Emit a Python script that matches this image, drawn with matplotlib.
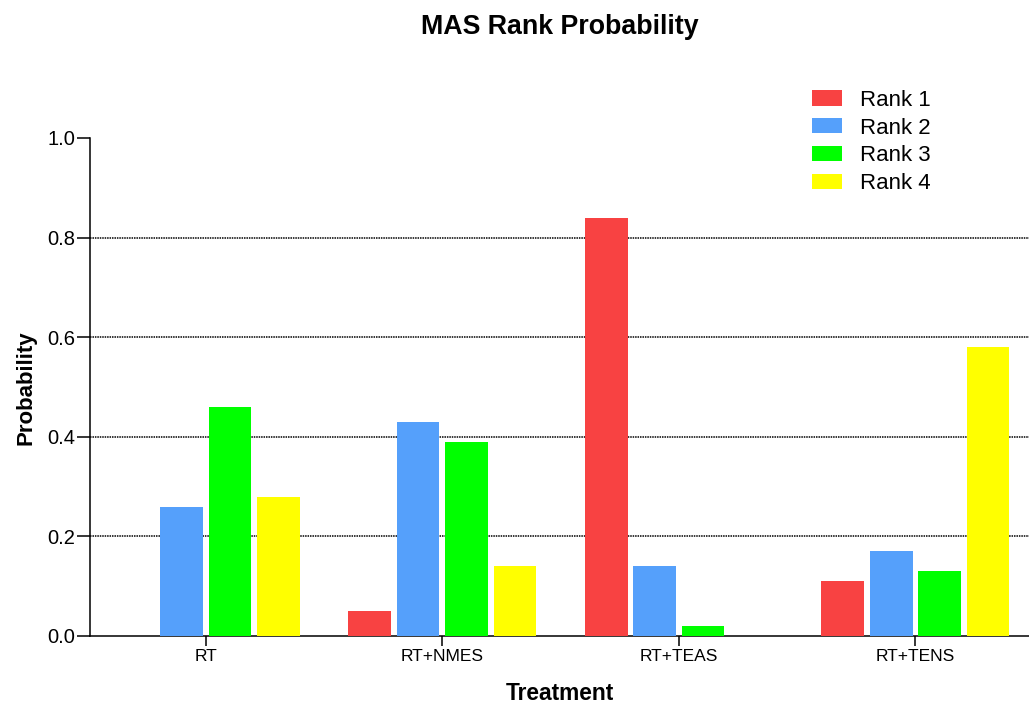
import numpy as np
import matplotlib.pyplot as plt

plt.rcParams['font.family'] = ['Liberation Sans', 'DejaVu Sans']

# Données
treatments = ["RT", "RT+NMES", "RT+TEAS", "RT+TENS"]
ranks = ["Rank 1", "Rank 2", "Rank 3", "Rank 4"]
rank1 = [0.0, 0.05, 0.84, 0.11]
rank2 = [0.26, 0.43, 0.14, 0.17]
rank3 = [0.46, 0.39, 0.02, 0.13]
rank4 = [0.28, 0.14, 0.0, 0.58]
colors = ["#F84242", "#55A0FB", "#00FF00", "#FFFF00"]

fig = plt.figure(figsize=(10.29, 7.04), dpi=100)
ax = fig.add_axes([0.0875, 0.0966, 0.9125, 0.7074])

x = np.arange(len(treatments))
pas = 0.205
largeur = 0.18
series = [rank1, rank2, rank3, rank4]
for i, (vals, nom, c) in enumerate(zip(series, ranks, colors)):
    ax.bar(x + (i - 1.5) * pas, vals, width=largeur, color=c, label=nom, zorder=3)

# lignes de grille pointillées
for yv in [0.2, 0.4, 0.6, 0.8]:
    ax.axhline(yv, color="black", linestyle=(0, (1, 0.6)), linewidth=1.1, zorder=1)

ax.set_xlim(-0.49, 3.48)
ax.set_ylim(0, 1.0)
ax.set_yticks([0.0, 0.2, 0.4, 0.6, 0.8, 1.0])
ax.set_yticklabels(["0.0", "0.2", "0.4", "0.6", "0.8", "1.0"], fontsize=14.5)
ax.set_xticks(x)
ax.set_xticklabels(treatments, fontsize=12.5)
ax.tick_params(axis="y", direction="out", length=9.4, width=1.1, pad=1, colors="black")
ax.tick_params(axis="x", direction="out", length=7.2, width=1.1, pad=2, colors="black")

for s in ["top", "right"]:
    ax.spines[s].set_visible(False)
ax.spines["left"].set_linewidth(1.1)
ax.spines["bottom"].set_linewidth(1.1)

# titres
fig.text(0.5437, 0.962, "MAS Rank Probability", fontsize=19.3, fontweight="bold",
         ha="center", va="center")
fig.text(0.5437, 0.0145, "Treatment", fontsize=16.4, fontweight="bold",
         ha="center", va="center")
fig.text(0.025, 1 - 387.5 / 704, "Probability", fontsize=16, fontweight="bold",
         ha="center", va="center", rotation=90)

fig.legend(loc="upper left", bbox_to_anchor=(0.7697, 0.901), frameon=False,
           fontsize=16, handlelength=1.35, handleheight=0.68, labelspacing=0.31,
           handletextpad=0.81)

fig.savefig("out.png", dpi=100)
